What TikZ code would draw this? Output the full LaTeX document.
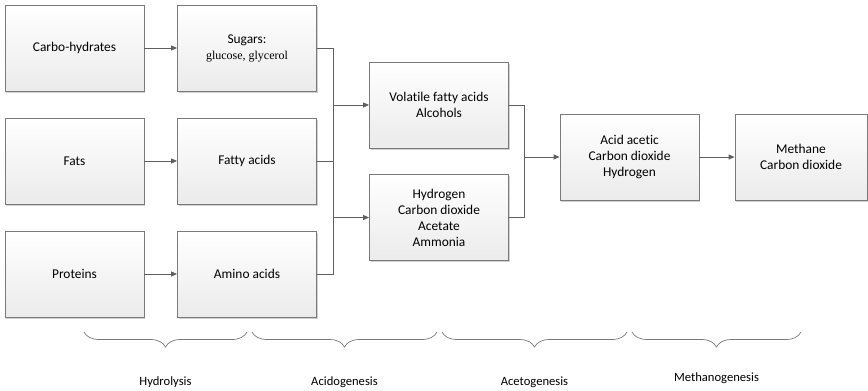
\documentclass[tikz,border=0pt]{standalone}
\usepackage{fontspec}
\setmainfont{Carlito}[Ligatures=NoCommon]
\newfontfamily\serifnote{Liberation Serif}
\usetikzlibrary{arrows.meta,shadows,decorations.pathreplacing}

\definecolor{edge}{HTML}{7A7A7A}
\definecolor{wirecol}{HTML}{5F5F5F}
\definecolor{boxbottom}{HTML}{EBEBEB}

\tikzset{
  stage/.style={draw=edge, line width=0.8pt, minimum width=139pt, minimum height=86pt,
    align=center, top color=white, bottom color=boxbottom, font=\fontsize{13.4}{16}\selectfont,
    drop shadow={shadow xshift=1.2pt, shadow yshift=-1.5pt, opacity=0.18, fill=black}},
  wire/.style={draw=wirecol, line width=0.8pt},
  flow/.style={wire, -{Triangle[length=6pt,width=5pt]}},
  phase/.style={decorate, decoration={brace, mirror, amplitude=15pt}, draw=edge, line width=0.7pt},
  phasename/.style={font=\fontsize{12.6}{15}\selectfont}
}

\begin{document}
\begin{tikzpicture}[x=1pt, y=-1pt, node distance=113pt]
	\useasboundingbox (0,0) rectangle (868,391);
	% hydrolysis inputs and products
	\node[stage] (carbs) at (74.5,48) {Carbo-hydrates};
	\node[stage] (fats) [below of=carbs] {Fats};
	\node[stage] (prot) [below of=fats] {Proteins};
	\node[stage] (sugars) [node distance=172.5pt, right of=carbs] {Sugars:\\{\serifnote\fontsize{12}{15}\selectfont glucose, glycerol}};
	\node[stage] (fatty) [node distance=172.5pt, right of=fats] {Fatty acids};
	\node[stage] (amino) [node distance=172.5pt, right of=prot] {Amino acids};
	% acidogenesis products
	\node[stage] (vfa) at (439,105) {Volatile fatty acids\\Alcohols};
	\node[stage] (gases) [node distance=112.5pt, below of=vfa] {Hydrogen\\Carbon dioxide\\Acetate\\Ammonia};
	% acetogenesis and methanogenesis
	\node[stage] (acetic) at (629.5,157) {Acid acetic\\Carbon dioxide\\Hydrogen};
	\node[stage, minimum width=132pt] (methane) at (801,157) {Methane\\Carbon dioxide};

	\draw[flow] (carbs) -- (sugars);
	\draw[flow] (fats) -- (fatty);
	\draw[flow] (prot) -- (amino);

	\coordinate (bus) at (333,0);
	\draw[wire] (sugars.east) -- (sugars.east -| bus) -- (amino.east -| bus) -- (amino.east);
	\draw[wire] (fatty.east) -- (fatty.east -| bus);
	\draw[flow] (vfa.west -| bus) -- (vfa.west);
	\draw[flow] (gases.west -| bus) -- (gases.west);

	\coordinate (merge) at (524,0);
	\draw[wire] (vfa.east) -- (vfa.east -| merge) -- (gases.east -| merge) -- (gases.east);
	\draw[flow] (acetic.west -| merge) -- (acetic.west);
	\draw[flow] (acetic) -- (methane);

	% phases
	\coordinate (p0) at (84,332);
	\coordinate (p1) at (247,332);
	\coordinate (p2) at (252,332);
	\coordinate (p3) at (437,332);
	\coordinate (p4) at (442,332);
	\coordinate (p5) at (627,332);
	\coordinate (p6) at (632,332);
	\coordinate (p7) at (801,332);
	\draw[phase] (p0) -- (p1);
	\draw[phase] (p2) -- (p3);
	\draw[phase] (p4) -- (p5);
	\draw[phase] (p6) -- (p7);
	\node[phasename] (hyd) at (165.5,382) {Hydrolysis};
	\node[phasename] (acid) at (344.5,382) {Acidogenesis};
	\node[phasename] (acet) at (534.5,382) {Acetogenesis};
	\node[phasename] (meth) at (716.5,378) {Methanogenesis};
\end{tikzpicture}
\end{document}
